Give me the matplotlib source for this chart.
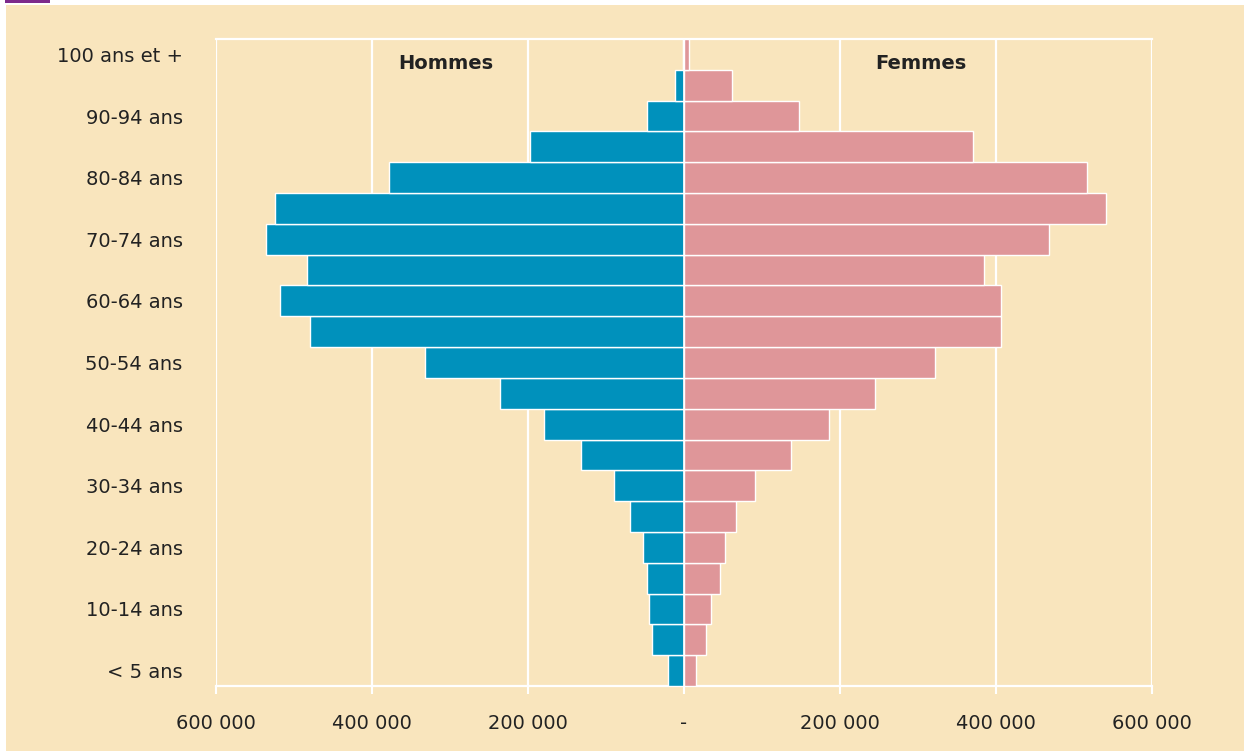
import numpy as np
import matplotlib.pyplot as plt
from matplotlib.patches import Rectangle

# Age groups from youngest to oldest
ages = ["< 5 ans", "5-9 ans", "10-14 ans", "15-19 ans", "20-24 ans", "25-29 ans",
        "30-34 ans", "35-39 ans", "40-44 ans", "45-49 ans", "50-54 ans", "55-59 ans",
        "60-64 ans", "65-69 ans", "70-74 ans", "75-79 ans", "80-84 ans", "85-89 ans",
        "90-94 ans", "95-99 ans", "100 ans et +"]

hommes = [20000, 41000, 45000, 48000, 53000, 69000, 90000, 132000, 180000, 236000,
          332000, 480000, 518000, 483000, 536000, 524000, 378000, 197000, 48000,
          11500, 1000]
femmes = [16000, 28000, 35000, 46000, 52000, 67000, 91000, 137000, 186000, 245000,
          322000, 407000, 407000, 384000, 468000, 541000, 517000, 371000, 148000,
          61000, 7000]

xticks = [-600000, -400000, -200000, 0, 200000, 400000, 600000]
xtick_labels = ["600 000", "400 000", "200 000", "-", "200 000", "400 000", "600 000"]

blue = "#0091bc"
pink = "#df9699"
beige = "#f9e5bd"

plt.rcParams['font.family'] = ['Liberation Sans Narrow', 'DejaVu Sans']

W, H = 1244, 751
fig = plt.figure(figsize=(W / 100, H / 100), dpi=100, facecolor="white")

# beige panel and the small purple mark at the top left
fig.patches.append(Rectangle((6 / W, 0), 1 - 6 / W, 1 - 5 / H, transform=fig.transFigure,
                             facecolor=beige, edgecolor="none", zorder=-10))
fig.patches.append(Rectangle((5 / W, 1 - 3 / H), 45 / W, 3 / H, transform=fig.transFigure,
                             facecolor="#7d2a8c", edgecolor="none", zorder=-5))

ax = fig.add_axes([216 / W, 1 - 686 / H, (1152 - 216) / W, (686 - 39) / H])
ax.set_facecolor(beige)

y = np.arange(len(ages))
ax.barh(y, -np.array(hommes), height=1.0, color=blue, edgecolor="white", linewidth=1.0, zorder=3)
ax.barh(y, femmes, height=1.0, color=pink, edgecolor="white", linewidth=1.0, zorder=3)
ax.axvline(0, color="white", lw=1.2, zorder=4)

ax.set_xlim(-600000, 600000)
ax.set_ylim(-0.5, len(ages) - 0.5)

ax.set_xticks(xticks)
ax.set_xticklabels(xtick_labels, fontsize=14, color="#222222")
ax.set_yticks(y[::2])
ax.set_yticklabels(ages[::2], fontsize=14, color="#222222")
ax.tick_params(axis="y", length=0, pad=24)
ax.tick_params(axis="x", length=6, width=1.5, color="white", pad=14)

ax.grid(axis="x", color="white", linewidth=1.6, zorder=1)
ax.set_axisbelow(True)

for side in ["left", "right"]:
    ax.spines[side].set_visible(False)
for side in ["top", "bottom"]:
    ax.spines[side].set_color("white")
    ax.spines[side].set_linewidth(1.6)

ax.text(-305000, 19.7, "Hommes", fontsize=14, fontweight="bold", ha="center", va="center",
        color="#222222")
ax.text(304000, 19.7, "Femmes", fontsize=14, fontweight="bold", ha="center", va="center",
        color="#222222")

fig.savefig("out.png", dpi=100, facecolor=fig.get_facecolor())
